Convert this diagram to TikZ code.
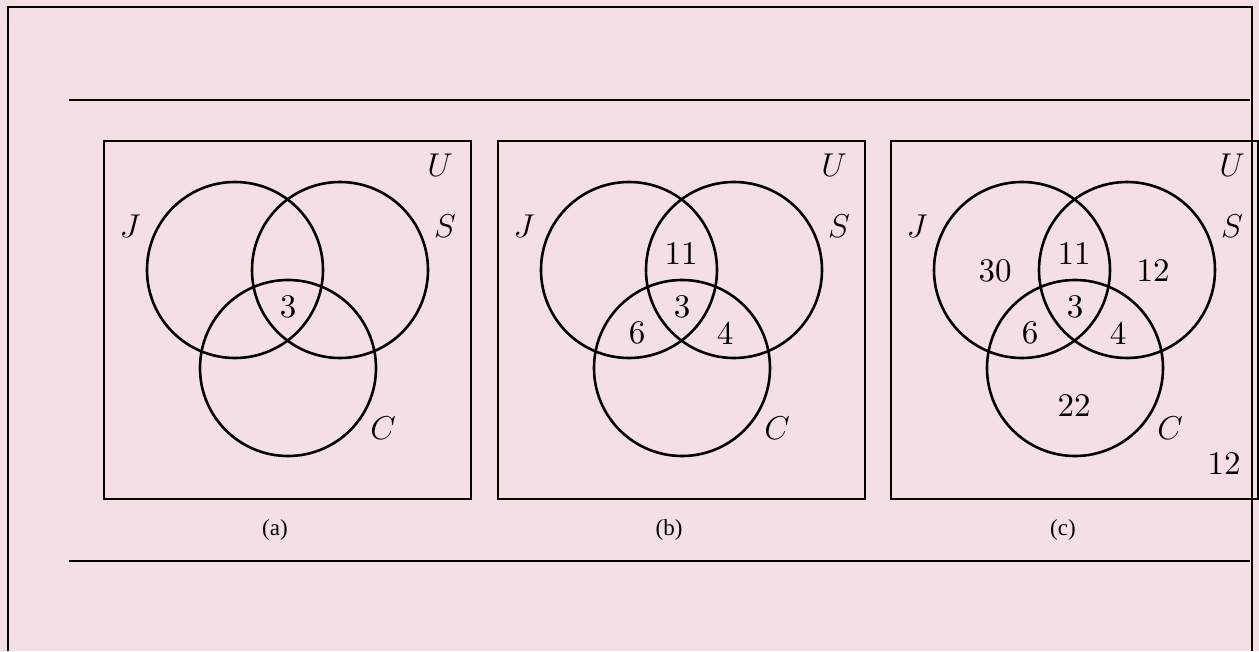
\RequirePackage{fix-cm}
\documentclass[tikz,border=0pt]{standalone}
\usepackage{fontspec}
\newfontfamily\capfont{Liberation Serif}
\newfontfamily\numfont{lmroman10-regular}[Extension=.otf]
\usetikzlibrary{positioning}
\definecolor{pagepink}{RGB}{244,224,227}
\tikzset{
  venn box/.style={
    rectangle, draw, line width=2.6pt,
    minimum width=367pt, minimum height=358pt, inner sep=0pt
  },
  venn set/.style={circle, draw, line width=2.6pt, minimum size=176pt, inner sep=0pt},
  set label/.style={font=\fontsize{33}{40}\selectfont, inner sep=0pt},
  count label/.style={font=\numfont\fontsize{33}{40}\selectfont, inner sep=0pt},
  panel caption/.style={font=\capfont\fontsize{23}{27}\selectfont, inner sep=0pt},
  rule line/.style={line width=2.6pt}
}

\begin{document}
\begin{tikzpicture}[x=1pt, y=-1pt]
    \path[use as bounding box, fill=pagepink] (0,0) rectangle (1259,651);
    \draw[line width=1.3pt] (8,651) -- (8,7) -- (1252,7) -- (1252,651);
    \draw[rule line] (69,100) -- (1250,100);
    \draw[rule line] (69,561) -- (1250,561);

    % (a)
    \node[venn box] (a-box) at (287.5,320) {};
    \node[venn set] (a-J) at (235,270) {};
    \node[venn set] (a-S) at (340,270) {};
    \node[venn set] (a-C) at (288,368) {};
    \node[set label] (a-U) at (440,165) {$U$};
    \node[set label] (a-Jl) at (130,226) {$J$};
    \node[set label] (a-Sl) at (445,226) {$S$};
    \node[set label] (a-Cl) at (383,428) {$C$};
    \node[count label] (a-jsc) at (288,307) {3};
    \node[panel caption] (a-cap) at (275,530) {(a)};

    % (b)
    \begin{scope}[xshift=394pt]
      \node[venn box] (b-box) at (287.5,320) {};
      \node[venn set] (b-J) at (235,270) {};
      \node[venn set] (b-S) at (340,270) {};
      \node[venn set] (b-C) at (288,368) {};
      \node[set label] (b-U) at (440,165) {$U$};
      \node[set label] (b-Jl) at (130,226) {$J$};
      \node[set label] (b-Sl) at (445,226) {$S$};
      \node[set label] (b-Cl) at (383,428) {$C$};
      \node[count label] (b-js) at (287,254) {11};
      \node[count label] (b-jsc) at (288,307) {3};
      \node[count label] (b-jc) at (243,333) {6};
      \node[count label] (b-sc) at (331,333) {4};
      \node[panel caption] (b-cap) at (275,530) {(b)};
    \end{scope}

    % (c)
    \begin{scope}[xshift=787pt]
      \node[venn box] (c-box) at (287.5,320) {};
      \node[venn set] (c-J) at (235,270) {};
      \node[venn set] (c-S) at (340,270) {};
      \node[venn set] (c-C) at (288,368) {};
      \node[set label] (c-U) at (445,165) {$U$};
      \node[set label] (c-Jl) at (130,226) {$J$};
      \node[set label] (c-Sl) at (445,226) {$S$};
      \node[set label] (c-Cl) at (383,428) {$C$};
      \node[count label] (c-j) at (208,271) {30};
      \node[count label] (c-s) at (366,271) {12};
      \node[count label] (c-js) at (287,254) {11};
      \node[count label] (c-jsc) at (288,307) {3};
      \node[count label] (c-jc) at (243,333) {6};
      \node[count label] (c-sc) at (331,333) {4};
      \node[count label] (c-c) at (287,406) {22};
      \node[count label] (c-out) at (437,464) {12};
      \node[panel caption] (c-cap) at (276,530) {(c)};
    \end{scope}
  \end{tikzpicture}
\end{document}
